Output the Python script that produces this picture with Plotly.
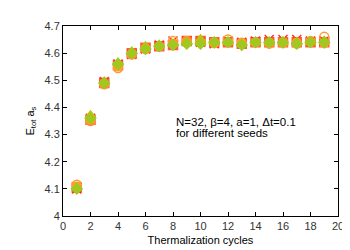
import plotly.graph_objects as go

cycles = list(range(1, 20))
seed_red_sq = [4.105, 4.355, 4.49, 4.555, 4.600, 4.620, 4.625, 4.630, 4.645, 4.645, 4.640, 4.640, 4.635, 4.640, 4.640, 4.640, 4.640, 4.640, 4.640]
seed_red_x = [4.100, 4.360, 4.495, 4.560, 4.595, 4.615, 4.630, 4.645, 4.645, 4.640, 4.635, 4.645, 4.640, 4.645, 4.650, 4.650, 4.650, 4.645, 4.645]
seed_orange_o = [4.115, 4.350, 4.485, 4.545, 4.595, 4.615, 4.625, 4.645, 4.645, 4.640, 4.640, 4.650, 4.635, 4.640, 4.635, 4.640, 4.635, 4.645, 4.660]
seed_orange_f = [4.110, 4.355, 4.490, 4.550, 4.600, 4.620, 4.625, 4.635, 4.640, 4.640, 4.635, 4.640, 4.640, 4.640, 4.640, 4.635, 4.640, 4.640, 4.635]
seed_yellow_t = [4.105, 4.370, 4.495, 4.565, 4.605, 4.625, 4.630, 4.635, 4.640, 4.650, 4.640, 4.640, 4.635, 4.640, 4.640, 4.640, 4.640, 4.640, 4.645]
seed_green_d = [4.100, 4.360, 4.490, 4.560, 4.600, 4.615, 4.625, 4.630, 4.635, 4.635, 4.640, 4.640, 4.630, 4.640, 4.640, 4.640, 4.635, 4.640, 4.640]

x_ticks = list(range(0, 21, 2))
y_ticks = [4.0, 4.1, 4.2, 4.3, 4.4, 4.5, 4.6, 4.7]
y_labels = ["4", "4.1", "4.2", "4.3", "4.4", "4.5", "4.6", "4.7"]

series = [
    (seed_red_sq, "square", "#ff5a3c", 9),
    (seed_red_x, "x-thin", "#ff3020", 9),
    (seed_orange_o, "circle-open", "#ff9933", 9),
    (seed_orange_f, "circle", "#ffa030", 8),
    (seed_yellow_t, "triangle-up", "#c8c000", 9),
    (seed_green_d, "diamond", "#a0c820", 8),
]

FONT = "Liberation Sans, Arial"

fig = go.Figure()
for vals, sym, col, sz in series:
    line = dict(color=col, width=1.5)
    fig.add_trace(go.Scatter(x=cycles, y=vals, mode="markers",
                             marker=dict(symbol=sym, size=sz, color=col, line=line),
                             showlegend=False))

fig.add_annotation(x=8.05, y=4.345, xref="x", yref="y", xanchor="left", yanchor="middle",
                   text="N=32, β=4, a=1, Δt=0.1", showarrow=False,
                   font=dict(family=FONT, size=11.5, color="#000"))
fig.add_annotation(x=8.05, y=4.305, xref="x", yref="y", xanchor="left", yanchor="middle",
                   text="for different seeds", showarrow=False,
                   font=dict(family=FONT, size=11.5, color="#000"))

axis_common = dict(showgrid=False, zeroline=False, showline=True, linecolor="black",
                   linewidth=1, mirror="allticks", ticks="inside", ticklen=4,
                   tickcolor="black", tickfont=dict(family=FONT, size=11, color="#333"))

fig.update_xaxes(range=[0, 20], tickvals=x_ticks,
                 title=dict(text="Thermalization cycles", standoff=5,
                            font=dict(family=FONT, size=11, color="#000")),
                 **axis_common)
fig.update_yaxes(range=[4.0, 4.7], tickvals=y_ticks, ticktext=y_labels,
                 title=dict(text="E<sub>tot</sub> a<sub>s</sub>", standoff=7,
                            font=dict(family=FONT, size=11, color="#000")),
                 **axis_common)

fig.update_layout(width=350, height=250, margin=dict(l=55, r=20, t=13, b=42),
                  plot_bgcolor="white", paper_bgcolor="white")
fig.write_html("out.html")
